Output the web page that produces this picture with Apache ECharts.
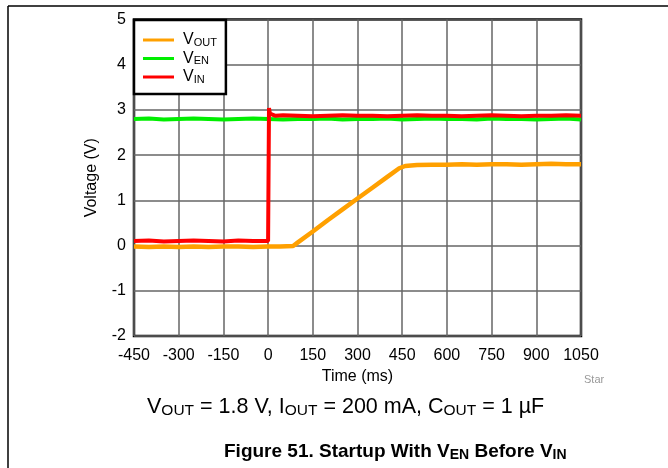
<!DOCTYPE html>
<html><head><meta charset="utf-8">
<script src="https://cdn.jsdelivr.net/npm/echarts@6/dist/echarts.min.js"></script>
<style>html,body{margin:0;padding:0;background:#fff}#c{width:668px;height:468px}</style>
</head><body><div id="c"></div>
<script>
// ---- data (time in ms, voltage in V) ----
const xTicks = [-450,-300,-150,0,150,300,450,600,750,900,1050];
const yTicks = [-2,-1,0,1,2,3,4,5];

const tEN = [-450,-400,-350,-300,-250,-200,-150,-100,-50,0,50,100,150,200,250,300,350,400,450,500,550,600,650,700,750,800,850,900,950,1000,1050];
const vEN = [2.80,2.81,2.79,2.80,2.81,2.80,2.79,2.80,2.81,2.80,2.79,2.80,2.80,2.81,2.79,2.80,2.80,2.81,2.79,2.80,2.81,2.80,2.80,2.79,2.81,2.80,2.80,2.79,2.80,2.81,2.79];

const tIN = [-450,-400,-350,-300,-250,-200,-150,-100,-50,0,3,3,6,12,25,50,100,150,200,250,300,350,400,450,500,550,600,650,700,750,800,850,900,950,1000,1050];
const vIN = [0.10,0.11,0.09,0.10,0.11,0.10,0.09,0.11,0.10,0.10,0.10,3.04,2.92,2.88,2.87,2.88,2.87,2.86,2.87,2.88,2.87,2.87,2.86,2.87,2.88,2.87,2.87,2.86,2.87,2.88,2.87,2.86,2.87,2.87,2.88,2.87];

const tOUT = [-450,-400,-350,-300,-250,-200,-150,-100,-50,0,40,84,100,150,200,250,300,350,400,440,460,500,550,600,650,700,750,800,850,900,950,1000,1050];
const vOUT = [-0.02,-0.03,-0.02,-0.03,-0.02,-0.03,-0.02,-0.02,-0.03,-0.02,-0.02,-0.01,0.07,0.31,0.56,0.80,1.04,1.28,1.52,1.71,1.76,1.78,1.79,1.79,1.80,1.79,1.80,1.80,1.79,1.80,1.81,1.80,1.80];

const seriesNames = ['VOUT','VEN','VIN'];
const seriesColors = {VOUT:'#FFA000', VEN:'#00EE00', VIN:'#FF0000'};
const legendRich = {VOUT:'{m|V}{s|OUT}', VEN:'{m|V}{s|EN}', VIN:'{m|V}{s|IN}'};

const FONT = '"Liberation Sans", Arial, sans-serif';
const pairs = (t, v) => t.map((x, i) => [x, v[i]]);

const chart = echarts.init(document.getElementById('c'), null, {renderer:'canvas'});
chart.setOption({
  animation:false,
  backgroundColor:'#fff',
  textStyle:{fontFamily:FONT},
  grid:{left:134, right:87, top:19.5, bottom:132, show:true, borderColor:'#000', borderWidth:2.5, backgroundColor:'transparent'},
  xAxis:{type:'value', min:xTicks[0], max:xTicks[xTicks.length-1], interval:150,
    name:'Time (ms)', nameLocation:'middle', nameGap:28,
    nameTextStyle:{fontSize:16, color:'#000', fontFamily:FONT},
    axisLine:{show:false}, axisTick:{show:false},
    axisLabel:{fontSize:16, color:'#000', margin:12, fontFamily:FONT, formatter:v => String(v)},
    splitLine:{show:true, lineStyle:{color:'#666', width:1.5}}},
  yAxis:{type:'value', min:yTicks[0], max:yTicks[yTicks.length-1], interval:1,
    name:'Voltage (V)', nameLocation:'middle', nameGap:34,
    nameTextStyle:{fontSize:16, color:'#000', fontFamily:FONT},
    axisLine:{show:false}, axisTick:{show:false},
    axisLabel:{fontSize:16, color:'#000', margin:8, fontFamily:FONT, formatter:v => String(v)},
    splitLine:{show:true, lineStyle:{color:'#666', width:1.5}}},
  legend:{data:seriesNames, orient:'vertical', left:134, top:20,
    padding:[12,9,9,9], itemGap:2.5, itemWidth:31, itemHeight:3, icon:'rect',
    backgroundColor:'#fff', borderColor:'#000', borderWidth:2.5,
    formatter:n => legendRich[n],
    textStyle:{color:'#000', fontFamily:FONT, padding:[0,0,0,4],
      rich:{m:{fontSize:16, lineHeight:16, fontFamily:FONT, color:'#000'},
            s:{fontSize:11, lineHeight:10, verticalAlign:'bottom', fontFamily:FONT, color:'#000'}}}},
  title:[
    {text:'{m|V}{s|OUT}{m| = 1.8 V, I}{s|OUT}{m| = 200 mA, C}{s|OUT}{m| = 1 µF}', left:147, top:395, padding:0,
      textStyle:{fontWeight:'normal', rich:{m:{fontSize:21.5, lineHeight:24, fontWeight:'normal', fontFamily:FONT, color:'#000'},
                       s:{fontSize:15.5, lineHeight:14, verticalAlign:'bottom', fontWeight:'normal', fontFamily:FONT, color:'#000'}}}},
    {text:'{m|Figure 51. Startup With V}{s|EN}{m| Before V}{s|IN}', left:224, top:441, padding:0,
      textStyle:{rich:{m:{fontSize:19, lineHeight:21, fontWeight:'bold', fontFamily:FONT, color:'#000'},
                       s:{fontSize:14, lineHeight:12, verticalAlign:'bottom', fontWeight:'bold', fontFamily:FONT, color:'#000'}}}}
  ],
  graphic:[
    {type:'line', shape:{x1:8, y1:6, x2:668, y2:6}, style:{stroke:'#000', lineWidth:1.5}},
    {type:'line', shape:{x1:8, y1:6, x2:8, y2:468}, style:{stroke:'#000', lineWidth:1.5}},
    {type:'text', left:584, top:374, style:{text:'Star', fill:'#999', font:'11px ' + FONT}}
  ],
  series:[
    {name:'VEN', type:'line', data:pairs(tEN, vEN), showSymbol:false, color:seriesColors.VEN, lineStyle:{width:4, color:seriesColors.VEN}, z:2},
    {name:'VOUT', type:'line', data:pairs(tOUT, vOUT), showSymbol:false, color:seriesColors.VOUT, lineStyle:{width:4.5, color:seriesColors.VOUT}, z:3},
    {name:'VIN', type:'line', data:pairs(tIN, vIN), showSymbol:false, color:seriesColors.VIN, lineStyle:{width:4, color:seriesColors.VIN}, z:4}
  ]
});
</script></body></html>
